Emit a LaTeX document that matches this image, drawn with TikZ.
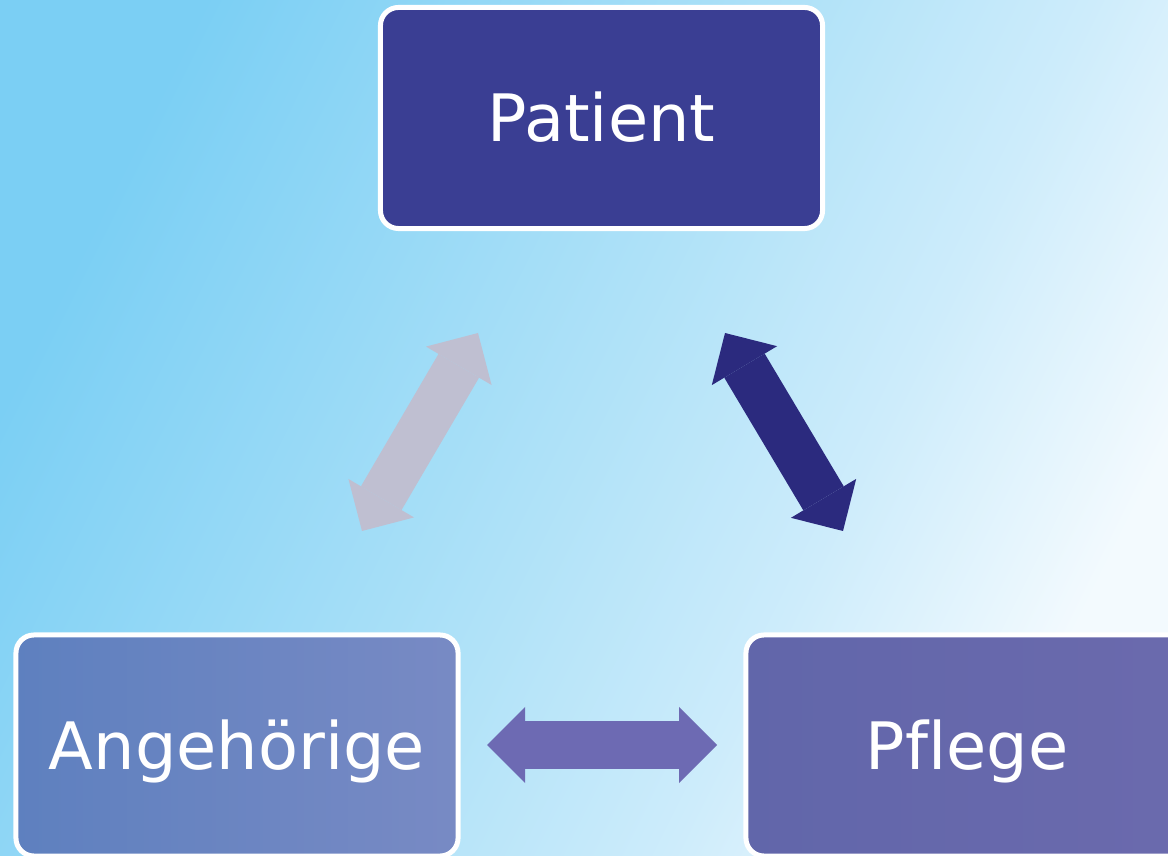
\documentclass[tikz,border=0pt]{standalone}
\usepackage{fontspec}
\setmainfont{DejaVu Sans}[Ligatures=NoCommon]
\usetikzlibrary{arrows.meta}
\definecolor{skyblue}{HTML}{7BCFF4}
\definecolor{skymid}{HTML}{B0E2F8}
\definecolor{skylight}{HTML}{CDECFB}
\definecolor{skywhite}{HTML}{F3FAFE}
\definecolor{patientblue}{HTML}{3A3E93}
\definecolor{angleft}{HTML}{5E80BF}
\definecolor{angright}{HTML}{788AC4}
\definecolor{pflleft}{HTML}{6166AA}
\definecolor{pflright}{HTML}{6B6AAD}
\definecolor{greyarrow}{HTML}{BFBFD1}
\definecolor{navyarrow}{HTML}{2B2A7E}
\definecolor{violetarrow}{HTML}{6D6AB3}
\pgfdeclarehorizontalshading{skyshade}{100bp}{color(0bp)=(skyblue);
  color(25bp)=(skyblue); color(50bp)=(skymid); color(62.5bp)=(skylight);
  color(75bp)=(skywhite); color(100bp)=(skywhite)}
\begin{document}
\begin{tikzpicture}[x=0.025cm,y=0.025cm,
    box/.style={draw=white,line width=0.125cm,rounded corners=0.45cm,
      minimum width=11.05cm,minimum height=5.525cm,inner sep=0pt,
      text height=1.2cm,text depth=0pt,
      text=white,font=\fontsize{46.5}{56}\selectfont},
    bigarrow/.style={line width=1.175cm,{Triangle[length=0.95cm,width=1.9cm,line width=0pt]}-{Triangle[length=0.95cm,width=1.9cm,line width=0pt]}}]
  \useasboundingbox (0,0) rectangle (1168,855);
  \clip (0,0) rectangle (1168,855);
  \shade[shading=skyshade,shading angle=-26.5] (0,0) rectangle (1168,855);
  % the three boxes
  \node[box,fill=patientblue] (patient) at (601.5,737) {Patient};
  \node[box,left color=angleft,right color=angright] (angehoerige) at (237,109.5) {Angehörige};
  \node[box,left color=pflleft,right color=pflright] (pflege) at (967,109.5) {Pflege};
  % ends of the block arrows
  \coordinate (ang top) at (478,522);
  \coordinate (ang bottom) at (362,324);
  \coordinate (pfl top) at (725,522);
  \coordinate (pfl bottom) at (843,324);
  \coordinate (mid left) at (487,110);
  \coordinate (mid right) at (717,110);
  \begin{scope}[bigarrow]
    \draw[greyarrow] (ang bottom) -- (ang top);
    \draw[navyarrow] (pfl top) -- (pfl bottom);
    \draw[violetarrow] (mid left) -- (mid right);
  \end{scope}
\end{tikzpicture}
\end{document}
